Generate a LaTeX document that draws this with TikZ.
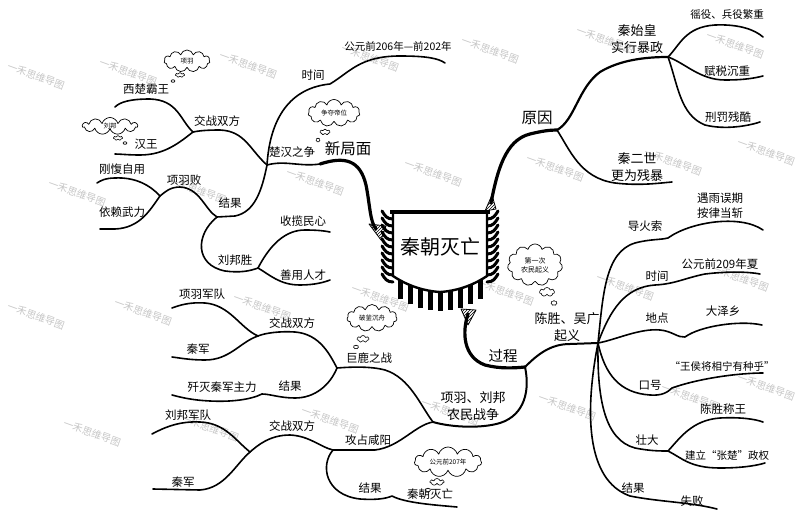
\documentclass[tikz,border=0pt]{standalone}
\usepackage{fontspec}
\newfontfamily\cjk{Noto Sans CJK SC}
\usetikzlibrary{shapes.symbols, patterns}

\begin{document}
\begin{tikzpicture}[
        x=1pt, y=-1pt,
        line cap=round, line join=round,
        branch/.style={line width=1.6pt},
        trunk/.style={line width=3.2pt},
        lbl/.style={font=\cjk\fontsize{11.5}{13}\selectfont, inner sep=1pt, align=center},
        tinylbl/.style={font=\cjk\fontsize{10.5}{12}\selectfont, inner sep=1pt},
        midlbl/.style={font=\cjk\fontsize{13}{17}\selectfont, inner sep=1pt, align=center},
        biglbl/.style={font=\cjk\fontsize{15.5}{17}\selectfont, inner sep=1pt},
        note/.style={cloud, draw, cloud puffs=11, cloud ignores aspect, line width=0.7pt,
            inner sep=0pt, align=center, fill=white, font=\cjk\fontsize{6.5}{8}\selectfont},
        puff/.style={cloud, draw, cloud puffs=7, cloud ignores aspect, line width=0.6pt,
            inner sep=0pt, fill=white},
        fringe/.style={line width=3pt},
        tassel/.style={line width=5pt, line cap=butt},
        hook/.style={draw, line width=0.8pt, pattern=north east lines},
        wmark/.style={text=black!22, rotate=-20, font=\cjk\fontsize{10}{11}\selectfont}
    ]
    \fill[white] (0,0) rectangle (800,516);
    \useasboundingbox (0,0) rectangle (800,516);

    % watermarks
    \foreach \wx/\wy in {36/76, 128/72, 248/65, 370/58, 490/50, 605/40, 735/45,
        77/193, 197/190, 315/182, 433/173, 555/168, 673/162, 766/152,
        36/316, 143/312, 262/307, 380/298, 505/292, 625/287, 740/278,
        92/433, 210/428, 330/420, 450/412, 567/407, 690/397, 766/387}
        \node[wmark] (wm\wx) at (\wx,\wy) {一禾思维导图};

    % junctions and free ends
    \coordinate (lhk) at (376,229);
    \coordinate (rhk) at (491,203);
    \coordinate (bhk) at (468,314);
    \coordinate (jch) at (267,165);
    \coordinate (jxj) at (320,164);
    \coordinate (jt1) at (330,84);
    \coordinate (et1) at (445,63);
    \coordinate (jz1) at (193,132);
    \coordinate (exc) at (115,107);
    \coordinate (ehw) at (115,154);
    \coordinate (jg1) at (217,217);
    \coordinate (jxy) at (160,196);
    \coordinate (egb) at (97,183);
    \coordinate (eyl) at (100,229);
    \coordinate (jlb) at (258,268);
    \coordinate (esl) at (330,232);
    \coordinate (esy) at (330,280);
    \coordinate (jyy) at (557,130);
    \coordinate (jqs) at (668,57);
    \coordinate (eyi) at (763,37);
    \coordinate (efs) at (763,76);
    \coordinate (exf) at (760,122);
    \coordinate (eqe) at (672,182);
    \coordinate (jgc) at (525,367);
    \coordinate (jcs) at (598,343);
    \coordinate (jdh) at (668,238);
    \coordinate (edh) at (763,230);
    \coordinate (esj) at (760,274);
    \coordinate (edd) at (762,325);
    \coordinate (ekh) at (763,373);
    \coordinate (jzd) at (668,451);
    \coordinate (ezw) at (763,422);
    \coordinate (ezz) at (765,463);
    \coordinate (ejg) at (717,509);
    \coordinate (jnm) at (433,422);
    \coordinate (jjl) at (337,368);
    \coordinate (jz2) at (258,336);
    \coordinate (exj) at (172,308);
    \coordinate (eq1) at (172,357);
    \coordinate (jg2) at (262,394);
    \coordinate (ejm) at (172,395);
    \coordinate (jgz) at (333,450);
    \coordinate (jz3) at (250,452);
    \coordinate (elj) at (152,434);
    \coordinate (eq2) at (153,489);
    \coordinate (egj) at (457,507);

    % new situation: Chu-Han war
    \draw[trunk] (jxj) .. controls (345,156) and (360,160) .. (366,185) .. controls (370,205) and (370,222) .. (lhk);
    \draw[branch] (jch) .. controls (285,160) and (300,167) .. (jxj);
    \draw[branch] (jch) .. controls (270,118) and (290,88) .. (jt1) .. controls (350,72) and (360,56) .. (400,56) .. controls (425,56) and (438,58) .. (et1);
    \draw[branch] (jch) .. controls (250,150) and (245,131) .. (220,130) .. controls (205,130) and (198,131) .. (jz1);
    \draw[branch] (jz1) .. controls (180,120) and (178,100) .. (150,99) .. controls (130,99) and (120,102) .. (exc);
    \draw[branch] (jz1) .. controls (180,142) and (165,155) .. (140,155) .. controls (128,155) and (120,154) .. (ehw);
    \draw[branch] (jch) .. controls (262,190) and (255,212) .. (235,216) -- (jg1);
    \draw[branch] (jg1) .. controls (205,210) and (200,188) .. (180,187) .. controls (170,187) and (165,192) .. (jxy);
    \draw[branch] (jxy) .. controls (150,185) and (135,177) .. (115,178) .. controls (105,178) and (100,181) .. (egb);
    \draw[branch] (jxy) .. controls (150,210) and (140,228) .. (115,229) -- (eyl);
    \draw[branch] (jg1) .. controls (195,235) and (195,265) .. (225,271) .. controls (240,273) and (250,271) .. (jlb);
    \draw[branch] (jlb) .. controls (270,245) and (285,230) .. (305,230) .. controls (318,230) and (325,231) .. (esl);
    \draw[branch] (jlb) .. controls (270,275) and (280,285) .. (300,285) .. controls (315,285) and (325,282) .. (esy);

    % causes
    \draw[trunk] (rhk) .. controls (497,172) and (505,140) .. (530,134) .. controls (542,131) and (550,130) .. (jyy);
    \draw[branch, line width=2.2pt] (jyy) .. controls (575,120) and (578,88) .. (600,72) .. controls (620,60) and (645,57) .. (jqs);
    \draw[branch] (jqs) .. controls (680,45) and (685,27) .. (715,25) .. controls (740,24) and (755,30) .. (eyi);
    \draw[branch] (jqs) .. controls (685,63) and (700,80) .. (725,80) .. controls (745,80) and (755,78) .. (efs);
    \draw[branch] (jqs) .. controls (678,85) and (680,115) .. (705,125) .. controls (725,130) and (748,126) .. (exf);
    \draw[branch] (jyy) .. controls (570,150) and (580,178) .. (615,183) .. controls (640,186) and (660,183) .. (eqe);

    % course: Chen Sheng and Wu Guang
    \draw[trunk] (bhk) .. controls (462,332) and (463,357) .. (485,365) .. controls (500,369) and (515,368) .. (jgc);
    \draw[branch, line width=2pt] (jgc) .. controls (537,355) and (550,344) .. (570,344) -- (jcs);
    \draw[branch] (jcs) .. controls (603,295) and (605,252) .. (635,243) .. controls (650,239) and (660,240) .. (jdh) .. controls (690,222) and (740,214) .. (edh);
    \draw[branch] (jcs) .. controls (610,310) and (625,287) .. (655,285) .. controls (675,284) and (685,278) .. (705,274) .. controls (730,271) and (750,272) .. (esj);
    \draw[branch] (jcs) .. controls (615,340) and (640,328) .. (660,330) .. controls (672,331) and (678,338) .. (685,337) .. controls (700,326) and (740,320) .. (edd);
    \draw[branch] (jcs) .. controls (605,375) and (620,393) .. (650,395) .. controls (662,396) and (668,392) .. (672,388) .. controls (700,378) and (740,373) .. (ekh);
    \draw[branch] (jcs) .. controls (597,400) and (605,440) .. (635,448) .. controls (650,451) and (660,451) .. (jzd);
    \draw[branch] (jzd) .. controls (680,438) and (692,420) .. (720,418) .. controls (740,417) and (755,419) .. (ezw);
    \draw[branch] (jzd) .. controls (682,458) and (690,468) .. (720,468) .. controls (740,468) and (755,466) .. (ezz);
    \draw[branch] (jcs) .. controls (585,410) and (585,480) .. (630,496) .. controls (660,502) and (690,502) .. (ejg);

    % course: peasant war of Xiang Yu and Liu Bang
    \draw[branch, line width=2pt] (jgc) .. controls (530,390) and (525,415) .. (500,423) .. controls (480,429) and (450,427) .. (jnm);
    \draw[branch] (jnm) .. controls (420,405) and (410,378) .. (385,370) .. controls (370,366) and (350,367) .. (jjl);
    \draw[branch] (jjl) .. controls (330,355) and (320,334) .. (295,332) .. controls (280,331) and (265,333) .. (jz2);
    \draw[branch] (jz2) .. controls (240,328) and (230,305) .. (205,303) .. controls (190,302) and (180,305) .. (exj);
    \draw[branch] (jz2) .. controls (240,342) and (230,360) .. (205,360) .. controls (190,360) and (180,358) .. (eq1);
    \draw[branch] (jjl) .. controls (330,385) and (315,398) .. (295,398) .. controls (280,398) and (270,394) .. (jg2);
    \draw[branch] (jg2) .. controls (250,400) and (230,402) .. (210,401) .. controls (190,400) and (180,397) .. (ejm);
    \draw[branch] (jnm) .. controls (415,425) and (400,447) .. (375,450) -- (jgz);
    \draw[branch] (jgz) .. controls (320,447) and (310,436) .. (290,435) .. controls (270,435) and (258,445) .. (jz3);
    \draw[branch] (jz3) .. controls (235,440) and (225,423) .. (200,422) .. controls (180,421) and (165,427) .. (elj);
    \draw[branch] (jz3) .. controls (235,465) and (225,488) .. (200,490) -- (eq2);
    \draw[branch] (jgz) .. controls (320,465) and (325,495) .. (360,499) .. controls (375,500) and (385,499) .. (392,496) .. controls (405,503) and (435,505) .. (egj);

    % banner
    \foreach \ty in {219,226,...,282} {
        \draw[fringe] (393,\ty) .. controls (387,\ty) and (385,\ty-3) .. (382,\ty-8);
        \draw[fringe] (487,\ty) .. controls (493,\ty) and (495,\ty-3) .. (498,\ty-8);
    }
    \foreach \bx in {400,410,...,480} {
        \pgfmathsetmacro\by{292-16*((\bx-440)/47)^2}
        \draw[tassel] (\bx,\by-3) -- (\bx,\by+19);
    }
    \draw[line width=2.4pt, fill=white] (393,212) -- (487,212) -- (487,276)
        .. controls (472,286) and (456,291) .. (440,292)
        .. controls (424,291) and (408,286) .. (393,276) -- cycle;
    \draw[line width=4pt, line cap=butt] (390,212) -- (490,212);
    \draw[hook] (369,224) -- (386,226) -- (381,240) -- cycle;
    \draw[hook] (485,211) -- (496,209) -- (492,195) -- cycle;
    \draw[hook] (461,309) -- (476,310) -- (468,325) -- cycle;
    \node[font=\cjk\fontsize{20}{22}\selectfont] (core) at (440,247) {秦朝灭亡};

    % labels: new situation
    \node[lbl] (chzz) at (292,152) {楚汉之争};
    \node[biglbl] (xjm) at (348,149) {新局面};
    \node[lbl] (cht) at (313,75) {时间};
    \node[tinylbl] (chtv) at (398,46) {公元前206年—前202年};
    \node[lbl] (chjz) at (217,121) {交战双方};
    \node[lbl] (xcbw) at (146,89) {西楚霸王};
    \node[lbl] (hw) at (146,144) {汉王};
    \node[lbl] (chjg) at (230,203) {结果};
    \node[lbl] (xyb) at (184,180) {项羽败};
    \node[lbl] (gbzy) at (122,169) {刚愎自用};
    \node[lbl] (ylwl) at (122,212) {依赖武力};
    \node[lbl] (lbs) at (235,260) {刘邦胜};
    \node[lbl] (slmx) at (303,221) {收揽民心};
    \node[lbl] (syrc) at (303,275) {善用人才};

    % labels: causes
    \node[biglbl] (yy) at (537,118) {原因};
    \node[midlbl] (qsh) at (637,39) {秦始皇\\实行暴政};
    \node[tinylbl] (yyi) at (727,15) {徭役、兵役繁重};
    \node[lbl] (fs) at (727,71) {赋税沉重};
    \node[lbl] (xf) at (728,117) {刑罚残酷};
    \node[midlbl] (qes) at (637,167) {秦二世\\更为残暴};

    % labels: course
    \node[biglbl, font=\cjk\fontsize{14.5}{16}\selectfont] (gc) at (503,356) {过程};
    \node[midlbl] (cs) at (567,327) {陈胜、吴广\\起义};
    \node[lbl] (dhs) at (645,226) {导火索};
    \node[lbl, font=\cjk\fontsize{11.5}{15}\selectfont] (ywq) at (720,206) {遇雨误期\\按律当斩};
    \node[lbl] (sj) at (657,276) {时间};
    \node[lbl] (sjv) at (720,264) {公元前209年夏};
    \node[lbl] (dd) at (657,318) {地点};
    \node[lbl] (ddv) at (723,311) {大泽乡};
    \node[lbl] (kh) at (650,385) {口号};
    \node[tinylbl] (khv) at (722,366) {“王侯将相宁有种乎”};
    \node[lbl] (zd) at (647,440) {壮大};
    \node[lbl] (zdw) at (723,409) {陈胜称王};
    \node[tinylbl] (zdz) at (727,455) {建立“张楚”政权};
    \node[lbl] (csjg) at (633,488) {结果};
    \node[lbl] (csjgv) at (692,501) {失败};
    \node[midlbl] (nm) at (473,406) {项羽、刘邦\\农民战争};
    \node[lbl] (jl) at (369,358) {巨鹿之战};
    \node[lbl] (jljz) at (292,323) {交战双方};
    \node[lbl] (xyjd) at (202,294) {项羽军队};
    \node[lbl] (qj1) at (198,349) {秦军};
    \node[lbl] (jljg) at (290,386) {结果};
    \node[lbl] (jm) at (222,387) {歼灭秦军主力};
    \node[lbl] (gz) at (368,440) {攻占咸阳};
    \node[lbl] (gzjz) at (292,426) {交战双方};
    \node[lbl] (lbjd) at (188,415) {刘邦军队};
    \node[lbl] (qj2) at (183,482) {秦军};
    \node[lbl] (gzjg) at (370,488) {结果};
    \node[lbl] (qcmw) at (430,494) {秦朝灭亡};

    % thought clouds
    \node[note, minimum width=46pt, minimum height=22pt] (c1) at (187,61) {项羽};
    \node[puff, minimum width=9pt, minimum height=5pt] (c1a) at (180,75) {};
    \node[puff, minimum width=4pt, minimum height=3pt] (c1b) at (173,81) {};
    \node[note, minimum width=55pt, minimum height=17pt] (c2) at (110,126) {刘邦};
    \node[puff, minimum width=9pt, minimum height=5pt] (c2a) at (118,138) {};
    \node[puff, minimum width=4pt, minimum height=3pt] (c2b) at (125,143) {};
    \node[note, minimum width=52pt, minimum height=27pt] (c3) at (334,113) {争夺帝位};
    \node[puff, minimum width=10pt, minimum height=6pt] (c3a) at (325,132) {};
    \node[puff, minimum width=4pt, minimum height=4pt] (c3b) at (318,140) {};
    \node[note, minimum width=55pt, minimum height=42pt, font=\cjk\fontsize{7}{9}\selectfont] (c4) at (535,265) {第一次\\农民起义};
    \node[puff, minimum width=15pt, minimum height=9pt] (c4a) at (547,292) {};
    \node[puff, minimum width=6pt, minimum height=5pt] (c4b) at (554,303) {};
    \node[note, minimum width=50pt, minimum height=27pt] (c5) at (372,318) {破釜沉舟};
    \node[puff, minimum width=12pt, minimum height=7pt] (c5a) at (363,339) {};
    \node[puff, minimum width=5pt, minimum height=4pt] (c5b) at (356,347) {};
    \node[note, minimum width=67pt, minimum height=30pt] (c6) at (448,462) {公元前207年};
    \node[puff, minimum width=14pt, minimum height=7pt] (c6a) at (437,482) {};
    \node[puff, minimum width=5pt, minimum height=4pt] (c6b) at (428,490) {};
\end{tikzpicture}
\end{document}
